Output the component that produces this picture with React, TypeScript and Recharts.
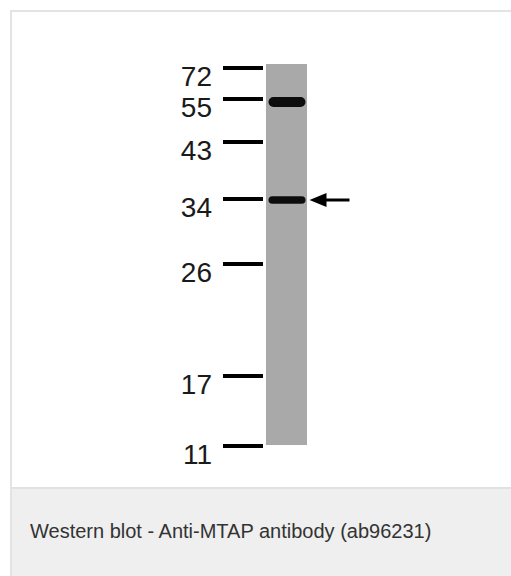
import { ComposedChart, Bar, Scatter, XAxis, YAxis } from 'recharts';

// marker ladder: size (kDa) and how far each marker ran from the well (px on the blot)
const markerKDa = [72, 55, 43, 34, 26, 17, 11];
const markerMigration = [4, 35, 78, 135, 200, 312, 382];

const lanes = ['Lane 1'];
const laneLength = [381];

// detected bands in lane 1
const bandKDa = [55, 34];
const bandMigration = [38, 136];
const bandIntensity = [1, 0.6];

// band of interest (MTAP), marked with an arrow
const targetKDa = [34];
const targetMigration = [136];

const laneData = lanes.map((lane, i) => ({ lane, length: laneLength[i] }));
const bandData = bandKDa.map((kda, i) => ({
    lane: lanes[0],
    kda,
    pos: bandMigration[i],
    intensity: bandIntensity[i],
}));
const targetData = targetKDa.map((kda, i) => ({ lane: lanes[0], kda, pos: targetMigration[i] }));

const FONT = '"Liberation Sans", Arial, sans-serif';

function MarkerTick(props: any) {
    const { x, y, payload } = props;
    const idx = markerMigration.indexOf(payload.value);
    return (
        <text
            x={x - 9}
            y={y + 8}
            dy="0.355em"
            textAnchor="end"
            fontFamily={FONT}
            fontSize={28}
            fill="#1a1a1a"
        >
            {idx >= 0 ? markerKDa[idx] : ''}
        </text>
    );
}

function BandShape(props: any) {
    const { cx, cy, payload } = props;
    const h = 4 + 6 * payload.intensity;
    const w = 37;
    return (
        <g>
            <defs>
                <filter id={`blur-${payload.kda}`} x="-20%" y="-80%" width="140%" height="260%">
                    <feGaussianBlur stdDeviation="0.6" />
                </filter>
            </defs>
            <rect
                x={cx - w / 2 + 0.5}
                y={cy - h / 2}
                width={w}
                height={h}
                rx={h / 2}
                fill="#0d0d0d"
                filter={`url(#blur-${payload.kda})`}
            />
        </g>
    );
}

function ArrowShape(props: any) {
    const { cx, cy } = props;
    const tip = cx + 23;
    return (
        <g>
            <polygon points={`${tip},${cy} ${tip + 17},${cy - 7} ${tip + 17},${cy + 7}`} fill="#000" />
            <line x1={tip + 10} y1={cy} x2={tip + 40} y2={cy} stroke="#000" strokeWidth={3} />
        </g>
    );
}

export default function App() {
    return (
        <div
            style={{
                position: 'absolute',
                left: 0,
                top: 0,
                width: 511,
                height: 576,
                background: '#fff',
                overflow: 'hidden',
                fontFamily: FONT,
            }}
        >
            <div
                style={{
                    position: 'absolute',
                    left: 10,
                    top: 10,
                    width: 540,
                    height: 620,
                    border: '2px solid #e3e3e3',
                    boxSizing: 'border-box',
                }}
            />
            <div
                style={{
                    position: 'absolute',
                    left: 10,
                    top: 487,
                    width: 540,
                    height: 100,
                    background: '#eeefee',
                    borderTop: '2px solid #e1e1e1',
                    borderLeft: '2px solid #e3e3e3',
                    boxSizing: 'border-box',
                }}
            />
            <div
                style={{
                    position: 'absolute',
                    left: 30,
                    top: 520,
                    fontSize: 20,
                    color: '#333',
                    whiteSpace: 'nowrap',
                }}
            >
                Western blot - Anti-MTAP antibody (ab96231)
            </div>
            <div style={{ position: 'absolute', left: 0, top: 0 }}>
                <ComposedChart
                    width={511}
                    height={488}
                    data={laneData}
                    margin={{ top: 64, right: 141, bottom: 42, left: 0 }}
                >
                    <XAxis
                        dataKey="lane"
                        type="category"
                        allowDuplicatedCategory={false}
                        padding={{ left: 0, right: 60 }}
                        hide
                    />
                    <YAxis
                        type="number"
                        domain={[0, 382]}
                        reversed
                        allowDataOverflow
                        ticks={markerMigration}
                        interval={0}
                        width={263}
                        axisLine={false}
                        tickSize={40}
                        tickLine={{ stroke: '#000', strokeWidth: 4 }}
                        tick={<MarkerTick />}
                    />
                    <Bar dataKey="length" fill="#a9a9a9" barSize={41} isAnimationActive={false} />
                    <Scatter data={bandData} dataKey="pos" shape={<BandShape />} isAnimationActive={false} />
                    <Scatter data={targetData} dataKey="pos" shape={<ArrowShape />} isAnimationActive={false} />
                </ComposedChart>
            </div>
        </div>
    );
}
